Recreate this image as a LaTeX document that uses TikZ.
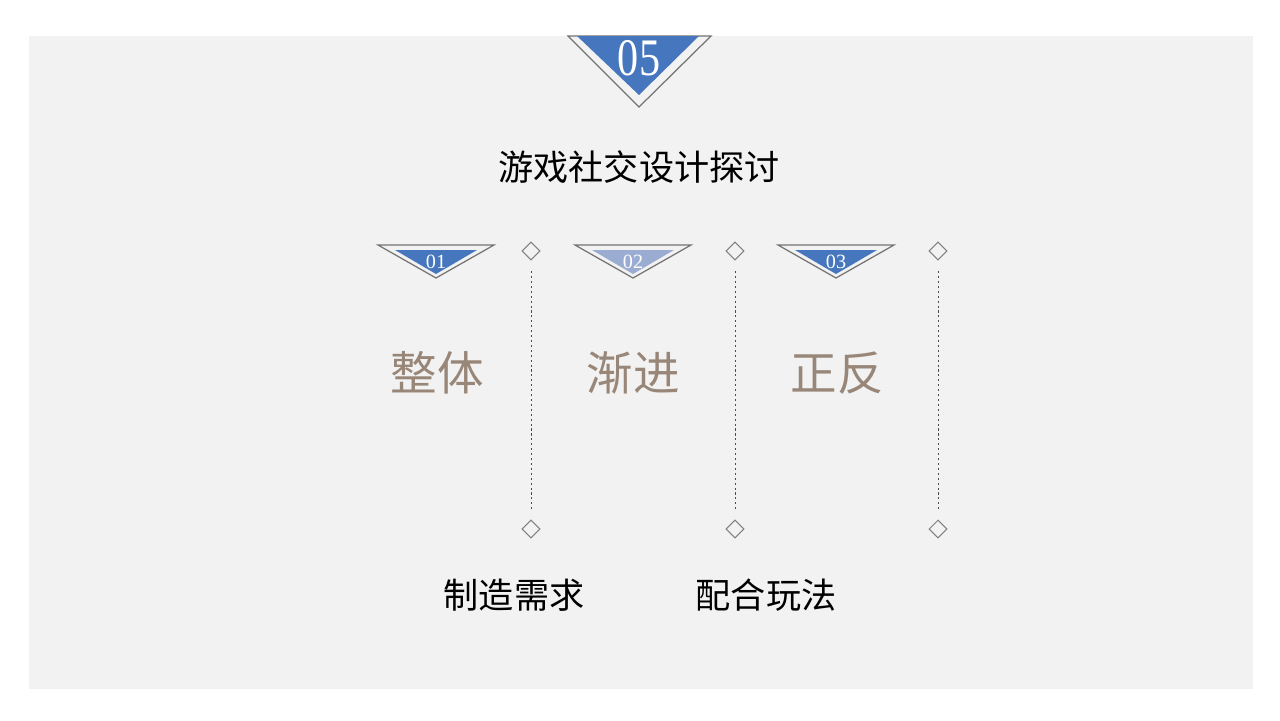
\documentclass[tikz,border=0pt]{standalone}
\usepackage{fontspec}
\setmainfont{Liberation Serif}
\newfontfamily\cjk{Noto Sans CJK SC}
\usetikzlibrary{shapes.geometric}
\definecolor{slidebg}{RGB}{242,242,242}
\definecolor{tribl}{RGB}{70,118,190}
\definecolor{trilight}{RGB}{155,172,210}
\definecolor{keyword}{RGB}{152,135,120}
\tikzset{
  outertri/.style={draw=gray!90!black,fill=slidebg,line width=0.7pt},
  knot/.style={diamond,draw=gray,fill=slidebg,inner sep=0pt,minimum size=0.36cm,line width=0.6pt},
  guide/.style={draw=gray!60!black,line width=0.5pt,dash pattern=on 1.2pt off 1.6pt,shorten <=6pt,shorten >=6pt},
  keyw/.style={text=keyword,font=\cjk\fontsize{26.5}{30}\selectfont},
  sub/.style={font=\cjk\fontsize{20}{24}\selectfont},
  num/.style={text=white,font=\fontsize{11.5}{12}\selectfont}
}
\begin{document}
\begin{tikzpicture}[x=0.02cm,y=-0.02cm]
  \useasboundingbox (0,0) rectangle (1280,720);
  \fill[white] (0,0) rectangle (1280,720);
  \fill[slidebg] (29,36) rectangle (1253,689);
  \draw[outertri] (568,36)--(711,36)--(639,107)--cycle;
  \fill[tribl] (577,36)--(699,36)--(639,95)--cycle;
  \node[text=white,font=\fontsize{24}{26}\selectfont] (head) at (639,58) {\scalebox{1}[1.25]{05}};
  \node[font=\cjk\fontsize{20}{24}\selectfont] (title) at (639,167) {游戏社交设计探讨};
  \foreach \cx/\col/\lbl [count=\i] in {436/tribl/01,633/trilight/02,836/tribl/03} {
    \draw[outertri] (\cx-58,245)--(\cx+58,245)--(\cx,278)--cycle;
    \fill[\col] (\cx-41,250)--(\cx+41,250)--(\cx,274)--cycle;
    \node[num] (n\i) at (\cx,262) {\lbl};
  }
  \foreach \dx [count=\i] in {531,735,938} {
    \node[knot] (top\i) at (\dx,251) {};
    \node[knot] (bot\i) at (\dx,529) {};
    \draw[guide] (top\i) -- (bot\i);
  }
  \node[keyw] (k1) at (437,373) {整体};
  \node[keyw] (k2) at (633,373) {渐进};
  \node[keyw] (k3) at (837,373) {正反};
  \node[sub] (s1) at (514,595) {制造需求};
  \node[sub] (s2) at (766,595) {配合玩法};
\end{tikzpicture}
\end{document}
